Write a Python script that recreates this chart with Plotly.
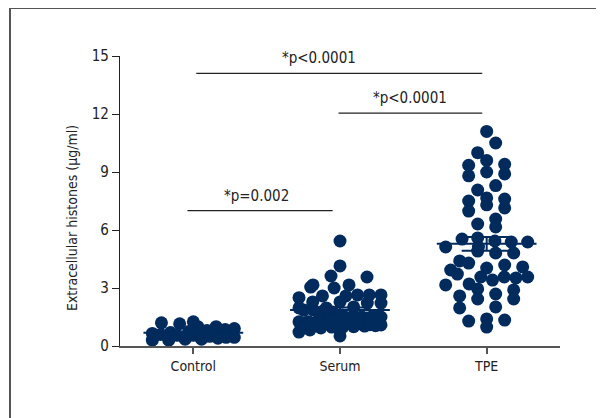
import numpy as np
import plotly.graph_objects as go

categories = ["Control", "Serum", "TPE"]

control_vals = [1.0, 1.25, 1.2, 1.15, 1.0, 0.8, 0.85, 0.7, 0.65, 0.6, 0.55, 0.5,
                0.45, 0.4, 0.35, 0.35, 0.3, 0.3, 0.75, 0.9, 0.55, 0.45]

serum_vals = [5.43, 4.14, 3.62, 3.57, 3.16, 3.05, 3.0, 3.16, 2.59, 2.64, 2.64, 2.5,
              2.64, 2.59, 2.22, 2.28, 2.22, 2.28, 1.97, 2.02, 1.86, 1.86, 1.97, 1.81,
              1.76, 1.5, 1.45, 1.5, 1.5, 1.6, 1.5, 1.5, 1.19, 0.98, 0.93, 1.03, 1.19,
              0.98, 1.09, 1.19, 0.52, 0.72, 0.83, 1.3, 1.25, 1.4, 1.35, 1.1, 1.2, 1.3,
              1.25, 1.15, 1.05, 1.35, 1.2, 1.0]

tpe_vals = [11.1, 10.5, 10.0, 9.4, 9.35, 9.6, 8.9, 9.0, 8.8, 8.3, 8.07, 7.66, 7.5,
            7.6, 6.98, 7.14, 7.3, 6.57, 6.31, 6.16, 5.43, 5.38, 5.59, 5.53, 5.38,
            5.12, 5.12, 4.91, 4.81, 4.81, 4.4, 4.19, 4.29, 4.03, 4.09, 3.93, 3.72,
            3.57, 3.52, 3.57, 3.57, 3.41, 3.16, 3.21, 2.69, 2.9, 2.95, 2.43, 2.43,
            2.59, 2.02, 1.97, 1.29, 1.34, 1.4, 0.98]

comparisons = [  # (from, to, level, label)
    (0, 1, 7.0, "*p=0.002"),
    (1, 2, 12.05, "*p<0.0001"),
    (0, 2, 14.1, "*p<0.0001"),
]

y_ticks = [0, 3, 6, 9, 12, 15]

NAVY = "#002b5c"
FONT = "DejaVu Sans Condensed, Liberation Sans Narrow, sans-serif"

# pixel scales of plot area
PX_X = 440 / 3.0
PX_Y = 290 / 15.0


def row_layout(values, row_h=12.0, step=18.0, max_w=82.0):
    """Prism-like scatter-dot layout: bin by value, centre each bin's dots."""
    vals = np.asarray(values, float)
    rows = np.floor(vals * PX_Y / row_h).astype(int)
    offs = np.zeros(len(vals))
    for r in np.unique(rows):
        idx = np.where(rows == r)[0]
        idx = idx[np.argsort(vals[idx])]
        n = len(idx)
        if n == 1:
            continue
        s = min(step, max_w / (n - 1))
        pos = (np.arange(n) - (n - 1) / 2.0) * s
        perm = np.concatenate([np.arange(n)[0::2], np.arange(n)[1::2][::-1]])
        offs[idx] = pos[perm] / PX_X
    return offs


fig = go.Figure()
groups = [control_vals, serum_vals, tpe_vals]
for gi, vals in enumerate(groups):
    offs = row_layout(vals)
    fig.add_trace(go.Scatter(
        x=gi + offs, y=vals, mode="markers",
        marker=dict(size=13, color=NAVY, line=dict(width=0)),
        cliponaxis=False, showlegend=False, hoverinfo="skip"))

for gi, vals in enumerate(groups):
    v = np.asarray(vals)
    m = v.mean()
    sem = v.std(ddof=1) / np.sqrt(len(v))
    fig.add_trace(go.Scatter(
        x=[gi - 0.34, gi + 0.34], y=[m, m], mode="lines",
        line=dict(color=NAVY, width=2), showlegend=False, hoverinfo="skip"))
    fig.add_trace(go.Scatter(
        x=[gi], y=[m], mode="markers", marker=dict(size=1, color=NAVY, opacity=0),
        error_y=dict(type="data", array=[sem], visible=True, color=NAVY,
                     thickness=2, width=25),
        showlegend=False, hoverinfo="skip"))

shapes = []
annotations = []
label_x = {(0, 1): 0.43, (1, 2): 1.48, (0, 2): 0.86}
line_ends = {(0, 1): (-0.04, 0.95), (1, 2): (0.99, 1.97), (0, 2): (0.02, 1.97)}
for a, b, lvl, lab in comparisons:
    x0, x1 = line_ends[(a, b)]
    shapes.append(dict(type="line", xref="x", yref="y", x0=x0, x1=x1,
                       y0=lvl, y1=lvl, line=dict(color="#222", width=1.3)))
    annotations.append(dict(x=label_x[(a, b)], y=lvl, xref="x", yref="y",
                            text=lab, showarrow=False, yanchor="bottom", yshift=4,
                            font=dict(family=FONT, size=15, color="#222")))

# frame lines
top = (346 - 8) / 290
shapes.append(dict(type="line", xref="paper", yref="paper",
                   x0=-0.25, x1=1.2, y0=top, y1=top,
                   line=dict(color="#555", width=2)))
shapes.append(dict(type="line", xref="paper", yref="paper",
                   x0=-0.25, x1=-0.25, y0=top, y1=-0.3,
                   line=dict(color="#555", width=2)))

annotations.append(dict(x=-0.109, y=(346 - 218) / 290, xref="paper", yref="paper",
                        xanchor="center", yanchor="middle",
                        text="Extracellular histones (μg/ml)", textangle=-90,
                        showarrow=False, font=dict(family=FONT, size=14, color="#222")))

fig.update_layout(
    width=604, height=418,
    margin=dict(l=112, r=52, t=48, b=80),
    paper_bgcolor="white", plot_bgcolor="white",
    font=dict(family=FONT, size=14, color="#222"),
    shapes=shapes, annotations=annotations,
    xaxis=dict(range=[-0.5, 2.5], tickvals=[0, 1, 2], ticktext=categories,
               showgrid=False, zeroline=False, showline=True, linecolor="#555",
               linewidth=1.5, ticks="outside", ticklen=6, tickcolor="#555",
               tickwidth=1.5, tickfont=dict(family=FONT, size=14, color="#222")),
    yaxis=dict(range=[0, 15], tickvals=y_ticks, showgrid=False, zeroline=False,
               showline=True, linecolor="#222", linewidth=1.3, ticks="outside",
               ticklen=7, tickcolor="#222", tickwidth=1.3,
               tickfont=dict(family=FONT, size=15, color="#222")),
)

fig.write_html("out.html")
